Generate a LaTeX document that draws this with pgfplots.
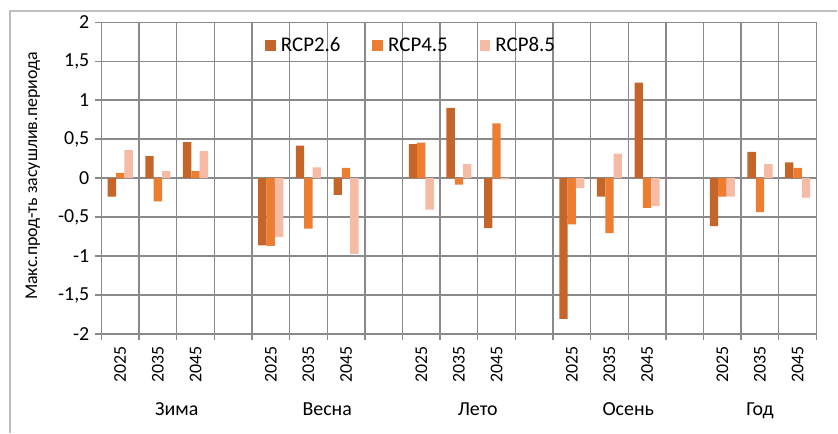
\documentclass[border=0pt]{standalone}
\usepackage{pgfplots}
\pgfplotsset{compat=1.18}
\usepackage{fontspec}
\setmainfont{Carlito}
\definecolor{cA}{RGB}{197,101,42}
\definecolor{cB}{RGB}{237,125,49}
\definecolor{cC}{RGB}{245,187,165}
\begin{document}
\begin{tikzpicture}
\begin{axis}[
  scale only axis, width=719bp, height=313.3bp,
  xmin=0, xmax=19, ymin=-2, ymax=2,
  clip=false,
  ybar=0pt, bar width=8.4bp,
  axis line style={black!46, line width=1.4bp},
  ytick={-2,-1.5,...,2},
  yticklabels={-2,{-1,5},-1,{-0,5},0,{0,5},1,{1,5},2},
  xtick={0,1,...,19},
  xticklabels={},
  tick pos=left, tick align=outside, major tick length=6bp,
  tick style={black!46, line width=1.4bp},
  xmajorgrids, ymajorgrids,
  grid style={black!46, line width=1.4bp},
  yticklabel style={font=\fontsize{20bp}{20bp}\selectfont, inner sep=0pt, anchor=east, xshift=-6bp},
  ylabel={Макс.прод-ть засушлив.периода},
  every axis y label/.style={at={([xshift=-69bp,yshift=2bp]axis description cs:0,0.5)}, rotate=90, anchor=center, font=\fontsize{18bp}{18bp}\selectfont},
  legend columns=3,
  legend style={at={(rel axis cs:0.433,0.9266)}, anchor=center, draw=none, fill=none,
    font=\fontsize{21bp}{21bp}\selectfont,
    /tikz/every odd column/.append style={column sep=3bp},
    /tikz/every even column/.append style={column sep=30bp}},
  legend image code/.code={\fill[#1,draw=none] (0bp,-5.5bp) rectangle (11bp,5.5bp);},
]
\addplot[fill=cA, draw=none] coordinates {
 (0.5,-0.24) (1.5,0.28) (2.5,0.46)
 (4.5,-0.864) (5.5,0.417) (6.5,-0.217)
 (8.5,0.434) (9.5,0.902) (10.5,-0.643)
 (12.5,-1.809) (13.5,-0.238) (14.5,1.226)
 (16.5,-0.617) (17.5,0.336) (18.5,0.2)};
\addplot[fill=cB, draw=none] coordinates {
 (0.5,0.068) (1.5,-0.30) (2.5,0.09)
 (4.5,-0.872) (5.5,-0.65) (6.5,0.132)
 (8.5,0.455) (9.5,-0.085) (10.5,0.702)
 (12.5,-0.596) (13.5,-0.706) (14.5,-0.383)
 (16.5,-0.238) (17.5,-0.438) (18.5,0.132)};
\addplot[fill=cC, draw=none] coordinates {
 (0.5,0.357) (1.5,0.09) (2.5,0.345)
 (4.5,-0.76) (5.5,0.136) (6.5,-0.974)
 (8.5,-0.404) (9.5,0.179) (10.5,-0.017)
 (12.5,-0.128) (13.5,0.315) (14.5,-0.362)
 (16.5,-0.238) (17.5,0.179) (18.5,-0.251)};
\legend{RCP2.6,RCP4.5,RCP8.5}
% category separators
\pgfplotsinvokeforeach{1,2,3,5,6,7,9,10,11,13,14,15,17,18}{
  \draw[black!46, line width=1.4bp] (axis cs:#1,-2) -- ++(0,-53bp);
}
\pgfplotsinvokeforeach{0,4,8,12,16,19}{
  \draw[black!46, line width=1.4bp] (axis cs:#1,-2) -- ++(0,-90bp);
}
\pgfplotsinvokeforeach{0.5,4.5,8.5,12.5,16.5}{
  \node[anchor=east, rotate=90, inner sep=0pt, font=\fontsize{18bp}{18bp}\selectfont] at ([yshift=-12bp]axis cs:#1,-2) {2025};
}
\pgfplotsinvokeforeach{1.5,5.5,9.5,13.5,17.5}{
  \node[anchor=east, rotate=90, inner sep=0pt, font=\fontsize{18bp}{18bp}\selectfont] at ([yshift=-12bp]axis cs:#1,-2) {2035};
}
\pgfplotsinvokeforeach{2.5,6.5,10.5,14.5,18.5}{
  \node[anchor=east, rotate=90, inner sep=0pt, font=\fontsize{18bp}{18bp}\selectfont] at ([yshift=-12bp]axis cs:#1,-2) {2045};
}
\node[anchor=base, inner sep=0pt, font=\fontsize{20bp}{20bp}\selectfont] at ([yshift=-82bp]axis cs:2,-2) {Зима};
\node[anchor=base, inner sep=0pt, font=\fontsize{20bp}{20bp}\selectfont] at ([yshift=-82bp]axis cs:6,-2) {Весна};
\node[anchor=base, inner sep=0pt, font=\fontsize{20bp}{20bp}\selectfont] at ([yshift=-82bp]axis cs:10,-2) {Лето};
\node[anchor=base, inner sep=0pt, font=\fontsize{20bp}{20bp}\selectfont] at ([yshift=-82bp]axis cs:14,-2) {Осень};
\node[anchor=base, inner sep=0pt, font=\fontsize{20bp}{20bp}\selectfont] at ([yshift=-82bp]axis cs:17.5,-2) {Год};
\end{axis}
\draw[black!25, line width=1.4bp] (-92bp,-100bp) -- (-92bp,324.7bp) -- (740bp,324.7bp);
\useasboundingbox (-102bp,-85bp) rectangle (736bp,335.7bp);
\end{tikzpicture}
\end{document}
